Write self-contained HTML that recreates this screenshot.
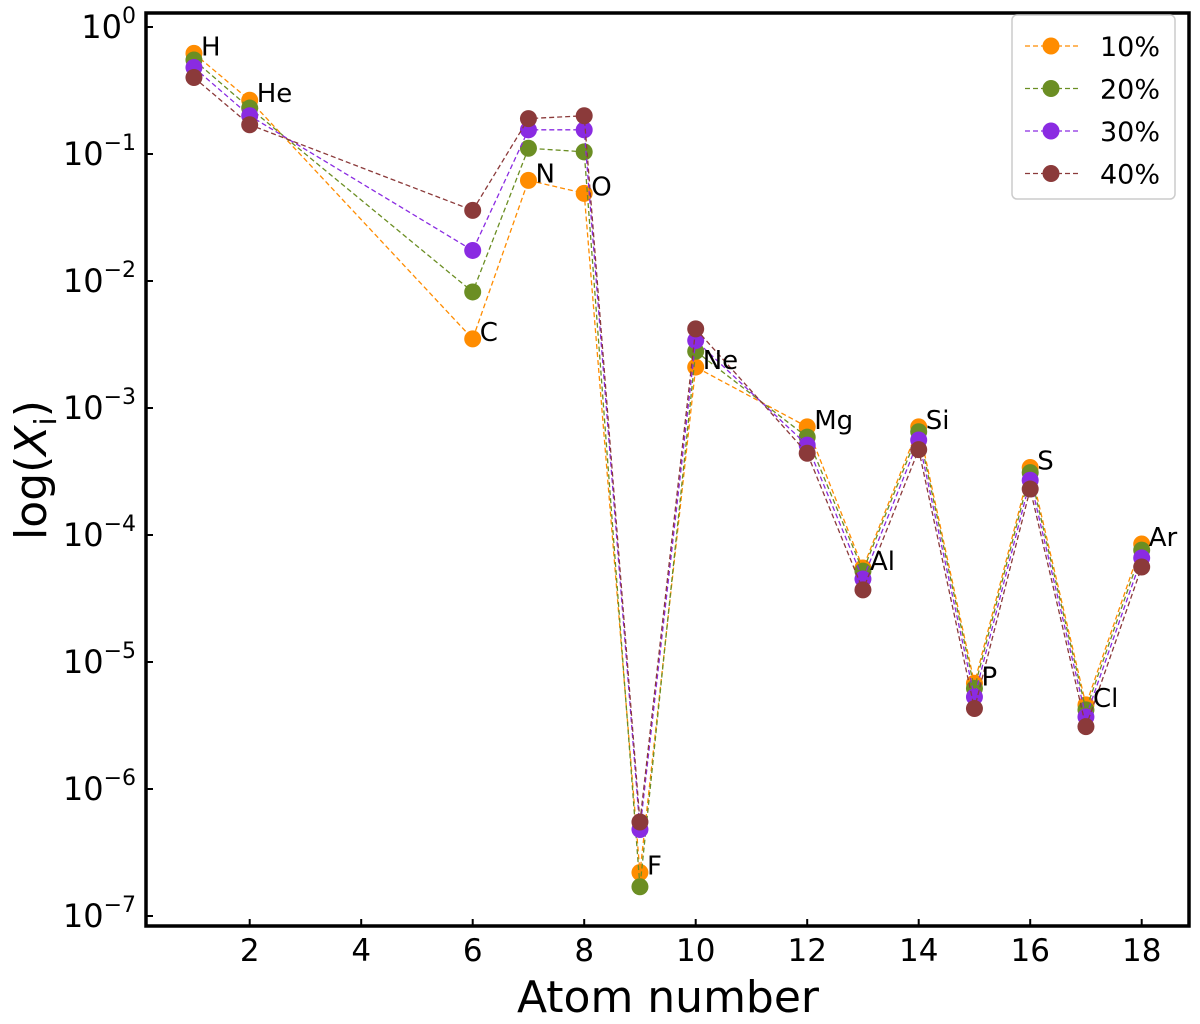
<!DOCTYPE html>
<html><head><meta charset="utf-8"><style>
body{margin:0;background:#fff}
svg{display:block;font-family:"DejaVu Sans","Liberation Sans",sans-serif}
</style></head><body>
<svg id="chart" width="1200" height="1024" viewBox="0 0 1200 1024" xmlns="http://www.w3.org/2000/svg">
<g id="series"></g>
<g id="axes"></g>
</svg>
<script>
const atoms = [1,2,6,7,8,9,10,12,13,14,15,16,17,18];
const symbols = ["H","He","C","N","O","F","Ne","Mg","Al","Si","P","S","Cl","Ar"];
const s10 = [0.62,0.265,0.0035,0.062,0.049,2.2e-7,2.1e-3,7.1e-4,5.5e-5,7.1e-4,6.8e-6,3.4e-4,4.6e-6,8.5e-5];
const s20 = [0.55,0.23,0.0082,0.111,0.104,1.7e-7,2.8e-3,5.9e-4,5.2e-5,6.5e-4,6.2e-6,3.1e-4,4.2e-6,7.6e-5];
const s30 = [0.48,0.20,0.0174,0.155,0.155,4.8e-7,3.4e-3,5.1e-4,4.5e-5,5.6e-4,5.3e-6,2.7e-4,3.7e-6,6.6e-5];
const s40 = [0.40,0.17,0.036,0.19,0.2,5.5e-7,4.2e-3,4.4e-4,3.7e-5,4.7e-4,4.3e-6,2.3e-4,3.1e-6,5.6e-5];
const seriesNames = ["10%","20%","30%","40%"];
const xTicks = [2,4,6,8,10,12,14,16,18];
const yTickExps = [0,-1,-2,-3,-4,-5,-6,-7];

const NS="http://www.w3.org/2000/svg";
const L=146,R=1189,T=13,B=926;
const xs=v=>249.7+(v-2)*55.75;
const ys=v=>27-Math.log10(v)*127;
function mk(tag,attrs,parent){const e=document.createElementNS(NS,tag);for(const k in attrs)e.setAttribute(k,attrs[k]);parent.appendChild(e);return e;}
const sg=document.getElementById('series'), ag=document.getElementById('axes');
const colors=["#ff8c00","#6b8e23","#8a2be2","#8b3a3a"];
const data=[s10,s20,s30,s40];
data.forEach((arr,si)=>{
  const g=mk('g',{},sg);
  
  
  const pts=arr.map((v,i)=>xs(atoms[i])+','+ys(v)).join(' ');
  const pl=mk('polyline',{points:pts,fill:'none',stroke:colors[si],'stroke-width':1.3,'stroke-dasharray':'5,3'},g);
  
  
  arr.forEach((v,i)=>{
    const c=mk('circle',{cx:xs(atoms[i]),cy:ys(v),r:8.5,fill:colors[si]},g);
    
    
  });
});
symbols.forEach((s,i)=>{
  const t=mk('text',{x:xs(atoms[i])+7,y:ys(s10[i])+2,'font-size':26,fill:'#000'},sg);
  t.textContent=s;
  
  
});
const fr=mk('rect',{x:L,y:T,width:R-L,height:B-T,fill:'none',stroke:'#000','stroke-width':3.5},ag);


xTicks.forEach(v=>{
  const x=xs(v);
  mk('line',{x1:x,x2:x,y1:B,y2:B-7,stroke:'#000','stroke-width':2},ag);
  const t=mk('text',{x:x,y:B+35,'font-size':31,'text-anchor':'middle'},ag);
  t.textContent=v;
  
  
});
yTickExps.forEach(e=>{
  const y=ys(Math.pow(10,e));
  mk('line',{x1:L,x2:L+7,y1:y,y2:y,stroke:'#000','stroke-width':2},ag);
  const t=mk('text',{x:136,y:y+11,'font-size':32,'text-anchor':'end'},ag);
  t.textContent='10';
  const sup=mk('tspan',{dy:-15,'font-size':22},t);
  sup.textContent=e===0?'0':'\u2212'+(-e);
  
  
});
const xt=mk('text',{x:668,y:1012,'font-size':44,'text-anchor':'middle'},ag);
xt.textContent='Atom number';


const yt=mk('text',{x:0,y:0,'font-size':44,'text-anchor':'middle',transform:'translate(46,470) rotate(-90)'},ag);
yt.textContent='log(';
const it=mk('tspan',{'font-style':'italic'},yt); it.textContent='X';
const sb=mk('tspan',{dy:10,'font-size':30},yt); sb.textContent='i';
const cl=mk('tspan',{dy:-10},yt); cl.textContent=')';


const lg=mk('g',{},ag);


mk('rect',{x:1012,y:15,width:163,height:184,rx:5,fill:'#fff',stroke:'#ccc','stroke-width':1.5},lg);
seriesNames.forEach((n,i)=>{
  const y=46+i*42.5;
  const e=mk('g',{},lg);
  
  
  mk('line',{x1:1025,x2:1078,y1:y,y2:y,stroke:colors[i],'stroke-width':1.3,'stroke-dasharray':'5,3'},e);
  mk('circle',{cx:1051,cy:y,r:8.5,fill:colors[i]},e);
  const t=mk('text',{x:1100,y:y+10,'font-size':27},e);
  t.textContent=n;
});
</script>
</body></html>
